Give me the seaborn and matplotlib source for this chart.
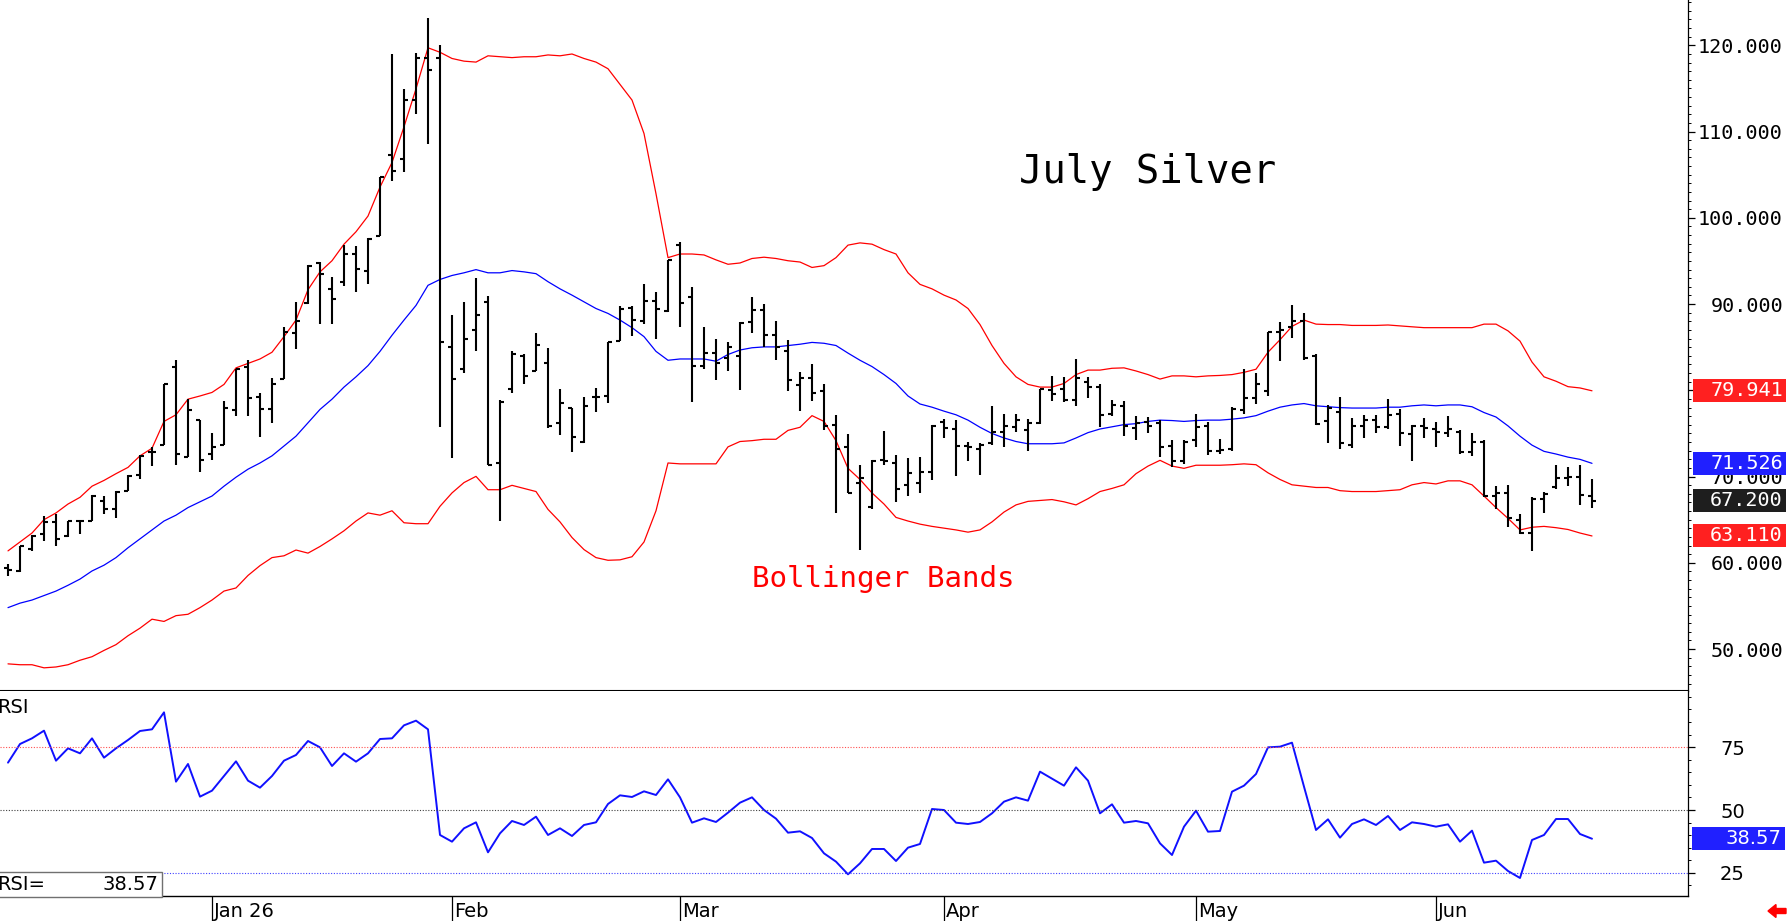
import numpy as np
import pandas as pd
import matplotlib
matplotlib.use("Agg")
import matplotlib.pyplot as plt
import matplotlib.transforms as mtransforms
from matplotlib.patches import Rectangle, FancyArrow
from matplotlib.ticker import MultipleLocator
import seaborn as sns

sns.set_theme(style="white")
plt.rcParams['font.family'] = ['DejaVu Sans']

# ---- data (one value per trading day) ----
opens = [59.45, 59.10, 61.62, 63.33, 64.73, 63.07, 64.90, 64.90, 67.20, 66.27,
         68.35, 70.20, 72.90, 73.68, 82.74, 72.28, 76.53, 72.64, 73.68, 77.66,
         82.74, 79.22, 77.80, 81.29, 86.62, 90.09, 94.75, 91.79, 92.57, 95.78,
         93.87, 97.85, 107.32, 106.80, 113.70, 118.55, 118.55, 85.07, 82.48, 86.98,
         90.24, 71.61, 80.15, 84.03, 82.22, 83.15, 76.26, 77.98, 74.04, 79.22,
         79.37, 85.74, 89.57, 88.02, 90.40, 89.21, 96.82, 90.76, 82.84, 84.30,
         83.77, 84.03, 87.91, 89.36, 86.46, 84.50, 80.60, 81.45, 79.89, 76.00,
         73.42, 69.30, 66.43, 71.87, 71.61, 69.02, 69.28, 70.58, 76.30, 75.49,
         73.50, 73.20, 73.94, 75.20, 75.70, 75.40, 76.26, 80.05, 80.10, 78.86,
         81.00, 80.40, 77.30, 78.20, 75.60, 76.30, 76.26, 73.50, 71.77, 74.20,
         75.90, 73.00, 73.16, 77.70, 79.10, 79.89, 86.80, 87.30, 88.00, 84.03,
         76.40, 77.50, 73.70, 75.90, 76.60, 75.80, 77.20, 74.90, 75.90, 75.50,
         75.00, 75.20, 72.80, 74.00, 67.80, 68.10, 65.00, 63.50, 67.40, 68.80,
         69.80, 70.00, 67.80]

highs = [59.86, 62.00, 63.17, 65.40, 65.66, 64.90, 65.00, 67.83, 67.80, 68.35,
         70.21, 72.49, 73.40, 80.77, 83.51, 78.96, 76.53, 75.08, 78.70, 82.48,
         83.51, 79.74, 81.45, 87.29, 90.24, 94.54, 94.90, 93.09, 96.82, 96.71,
         97.64, 104.74, 118.97, 114.93, 119.07, 123.21, 120.00, 88.69, 90.24, 92.99,
         90.92, 78.86, 84.55, 84.19, 86.62, 84.91, 80.15, 77.98, 79.22, 80.25,
         85.58, 89.72, 89.72, 92.31, 91.43, 95.16, 97.23, 91.95, 87.29, 85.94,
         85.58, 87.91, 90.76, 89.98, 88.02, 85.84, 82.07, 83.00, 80.77, 77.15,
         74.97, 71.35, 71.87, 75.23, 72.49, 72.13, 72.28, 76.01, 76.68, 76.53,
         74.04, 73.83, 78.18, 77.30, 77.30, 76.70, 80.15, 81.60, 81.50, 83.67,
         81.50, 80.77, 78.90, 78.70, 77.00, 76.90, 76.53, 74.20, 74.20, 77.30,
         76.30, 74.40, 78.08, 82.48, 81.96, 86.77, 87.91, 89.88, 88.95, 84.20,
         78.30, 79.20, 76.80, 77.10, 77.10, 78.96, 77.80, 76.00, 76.80, 76.30,
         77.00, 75.40, 75.10, 74.20, 68.90, 69.00, 65.60, 67.60, 68.20, 71.30,
         71.10, 71.30, 69.70]

lows = [58.51, 58.90, 61.41, 62.55, 61.93, 63.00, 63.30, 64.90, 65.60, 65.24,
        68.35, 69.70, 71.20, 73.60, 71.35, 72.28, 70.58, 71.87, 73.60, 77.04,
        77.04, 74.56, 76.22, 81.29, 84.81, 89.98, 87.65, 87.65, 92.05, 91.43,
        92.31, 97.85, 104.22, 105.25, 111.98, 108.51, 75.75, 72.13, 81.96, 84.55,
        71.35, 64.88, 79.63, 80.77, 82.22, 75.59, 74.87, 72.90, 73.94, 77.46,
        78.49, 85.74, 86.26, 87.65, 85.94, 89.05, 87.29, 78.60, 82.48, 81.19,
        82.22, 80.05, 86.62, 85.07, 83.51, 79.89, 77.56, 78.70, 75.39, 65.76,
        68.14, 61.52, 66.28, 71.35, 67.10, 67.72, 68.14, 69.54, 74.46, 70.06,
        71.77, 70.22, 73.68, 73.40, 75.20, 73.00, 76.11, 78.70, 78.60, 78.18,
        79.10, 75.75, 77.00, 74.70, 74.20, 75.00, 72.28, 71.10, 71.40, 73.40,
        72.50, 72.60, 73.00, 77.30, 78.40, 79.37, 83.36, 86.10, 83.50, 76.00,
        73.90, 73.16, 73.30, 74.50, 75.10, 75.50, 73.50, 71.80, 74.50, 73.40,
        74.60, 72.60, 72.40, 67.60, 66.20, 64.20, 63.30, 61.40, 65.80, 68.60,
        68.90, 66.70, 66.30]

closes = [59.20, 61.90, 63.07, 64.73, 62.81, 64.90, 64.90, 67.70, 66.27, 68.26,
          70.06, 72.40, 72.90, 80.77, 72.64, 77.66, 71.97, 73.42, 77.90, 82.48,
          79.11, 77.80, 80.77, 86.77, 88.07, 94.38, 93.50, 90.60, 95.78, 94.02,
          97.49, 104.74, 105.41, 113.69, 118.55, 117.16, 85.58, 81.29, 85.94, 88.69,
          71.35, 78.60, 84.19, 81.70, 85.22, 75.90, 78.49, 74.56, 78.18, 79.22,
          85.58, 89.47, 88.17, 90.40, 89.47, 95.16, 90.09, 82.84, 84.30, 83.15,
          85.07, 87.81, 89.36, 86.46, 85.00, 81.19, 81.45, 79.74, 75.90, 73.16,
          68.14, 69.80, 71.77, 71.77, 68.50, 70.42, 70.58, 75.90, 75.60, 73.52,
          73.40, 73.70, 75.20, 75.90, 76.50, 76.20, 80.15, 79.60, 78.90, 81.45,
          80.40, 77.14, 78.30, 75.90, 76.20, 75.90, 73.42, 71.77, 74.04, 75.80,
          73.00, 73.10, 77.80, 79.10, 80.77, 86.77, 87.00, 88.00, 83.77, 76.10,
          77.90, 73.90, 75.90, 76.50, 75.80, 77.10, 75.00, 75.90, 75.60, 75.20,
          75.50, 72.80, 74.00, 67.70, 68.10, 65.20, 63.50, 67.45, 68.00, 69.80,
          69.90, 67.83, 67.20]

upper_band = [61.38, 62.41, 63.45, 65.00, 65.78, 66.81, 67.59, 68.88, 69.55, 70.33,
              71.06, 72.40, 73.28, 76.39, 77.16, 78.97, 79.34, 79.75, 80.68, 82.60,
              83.12, 83.63, 84.41, 86.22, 88.14, 91.66, 93.73, 95.02, 96.94, 98.38,
              100.20, 103.56, 106.41, 110.55, 114.95, 119.71, 119.19, 118.47, 118.16, 118.05,
              118.78, 118.67, 118.57, 118.67, 118.67, 118.88, 118.78, 118.99, 118.47, 118.05,
              117.28, 115.47, 113.65, 109.77, 102.78, 95.38, 95.80, 95.80, 95.69, 95.12,
              94.61, 94.76, 95.28, 95.43, 95.28, 95.02, 94.87, 94.24, 94.45, 95.38,
              96.83, 97.09, 96.94, 96.31, 95.80, 93.62, 92.28, 91.76, 91.03, 90.47,
              89.48, 87.62, 85.19, 83.12, 81.56, 80.68, 80.37, 80.37, 80.79, 81.82,
              82.34, 82.34, 82.55, 82.60, 82.24, 81.82, 81.30, 81.67, 81.67, 81.56,
              81.67, 81.72, 81.82, 82.08, 82.44, 84.41, 85.86, 87.41, 88.14, 87.67,
              87.62, 87.62, 87.52, 87.52, 87.52, 87.57, 87.46, 87.36, 87.26, 87.26,
              87.26, 87.26, 87.26, 87.67, 87.67, 86.89, 85.70, 83.27, 81.56, 81.05,
              80.42, 80.27, 79.94]

mid_band = [54.80, 55.32, 55.68, 56.20, 56.72, 57.39, 58.11, 59.05, 59.72, 60.60,
            61.74, 62.77, 63.81, 64.84, 65.52, 66.40, 67.07, 67.74, 68.88, 69.92,
            70.85, 71.57, 72.40, 73.54, 74.68, 76.23, 77.78, 78.97, 80.37, 81.56,
            82.86, 84.51, 86.38, 88.14, 89.84, 92.17, 92.85, 93.31, 93.62, 93.99,
            93.62, 93.62, 93.88, 93.73, 93.52, 92.59, 91.76, 91.03, 90.26, 89.48,
            88.91, 88.14, 87.26, 86.22, 84.51, 83.48, 83.63, 83.63, 83.63, 83.37,
            84.15, 84.67, 84.93, 85.03, 85.03, 85.19, 85.34, 85.55, 85.45, 85.19,
            84.31, 83.48, 82.75, 81.82, 80.79, 79.34, 78.41, 78.04, 77.58, 77.16,
            76.54, 75.71, 74.99, 74.47, 74.06, 73.80, 73.80, 73.80, 73.90, 74.47,
            75.09, 75.51, 75.77, 76.02, 76.13, 76.39, 76.54, 76.49, 76.39, 76.49,
            76.54, 76.54, 76.65, 76.80, 77.06, 77.58, 78.04, 78.30, 78.46, 78.20,
            78.09, 77.99, 77.94, 77.94, 77.94, 78.04, 78.04, 78.20, 78.30, 78.20,
            78.30, 78.30, 78.09, 77.42, 76.90, 75.87, 74.68, 73.64, 72.92, 72.61,
            72.25, 71.99, 71.53]

lower_band = [48.28, 48.18, 48.18, 47.82, 47.92, 48.18, 48.70, 49.11, 49.84, 50.51,
              51.54, 52.42, 53.46, 53.20, 53.87, 54.03, 54.80, 55.68, 56.72, 57.08,
              58.53, 59.67, 60.60, 60.81, 61.48, 61.12, 61.89, 62.77, 63.71, 64.84,
              65.78, 65.52, 66.03, 64.64, 64.53, 64.53, 66.55, 68.10, 69.30, 70.02,
              68.47, 68.47, 68.98, 68.62, 68.26, 66.19, 64.74, 62.93, 61.53, 60.60,
              60.29, 60.34, 60.70, 62.41, 66.03, 71.57, 71.47, 71.47, 71.47, 71.47,
              73.44, 74.06, 74.16, 74.32, 74.32, 75.35, 75.71, 77.06, 76.39, 74.16,
              70.95, 69.66, 68.10, 66.81, 65.26, 64.84, 64.48, 64.22, 64.02, 63.81,
              63.55, 63.81, 64.74, 65.88, 66.71, 67.12, 67.23, 67.33, 67.07, 66.71,
              67.43, 68.26, 68.62, 69.04, 70.33, 71.21, 71.88, 71.21, 70.95, 71.31,
              71.31, 71.31, 71.37, 71.47, 71.37, 70.43, 69.66, 69.04, 68.88, 68.73,
              68.73, 68.36, 68.26, 68.26, 68.26, 68.36, 68.47, 69.04, 69.30, 69.14,
              69.50, 69.50, 69.04, 67.74, 66.40, 65.15, 63.81, 64.12, 64.22, 64.07,
              63.86, 63.45, 63.11]

rsi = [68.84, 76.26, 78.52, 81.57, 69.63, 74.54, 72.55, 78.52, 70.83, 74.54,
       77.86, 81.44, 82.10, 88.86, 61.28, 68.31, 55.31, 57.70, 63.53, 69.37,
       61.68, 58.89, 63.53, 69.63, 71.89, 77.46, 74.94, 67.51, 72.55, 69.24,
       72.55, 78.25, 78.52, 83.69, 85.55, 82.10, 40.06, 37.40, 42.71, 45.10,
       33.16, 40.72, 45.63, 44.04, 47.35, 40.06, 42.71, 39.66, 44.04, 45.10,
       52.39, 55.84, 55.18, 57.43, 55.97, 62.21, 55.04, 44.96, 46.69, 45.23,
       48.94, 52.92, 55.04, 50.00, 46.56, 40.98, 41.52, 38.86, 32.76, 29.45,
       24.41, 28.78, 34.49, 34.49, 29.71, 35.02, 36.48, 50.40, 50.00, 44.96,
       44.43, 45.23, 48.68, 53.32, 55.04, 53.72, 65.26, 62.47, 59.69, 66.98,
       61.68, 48.68, 52.26, 44.96, 45.63, 44.70, 36.74, 32.10, 43.37, 49.74,
       41.38, 41.65, 57.30, 59.69, 64.33, 74.94, 75.20, 76.79, 59.29, 42.05,
       46.29, 39.00, 44.43, 46.29, 44.04, 47.62, 42.05, 45.10, 44.43, 43.37,
       44.30, 37.40, 41.78, 29.05, 29.84, 25.73, 22.95, 38.07, 40.06, 46.42,
       46.42, 40.45, 38.57]

month_labels = ['Jan 26', 'Feb', 'Mar', 'Apr', 'May', 'Jun']
month_start_bar = [17, 37, 56, 78, 99, 119]
price_ticks = [50, 60, 70, 80, 90, 100, 110, 120]
rsi_ticks = [25, 50, 75]

last_values = [79.941, 71.526, 67.200, 63.110]
last_colors = ['#ff2020', '#2020ff', '#1e1e1e', '#ff2020']
rsi_last = 38.57

# ---- layout (pixel based) ----
W, H = 1788, 921
PLOT_R = 1688
MAIN_BOT = 691
RSI_BOT = 896

bars = np.arange(len(closes))
df = pd.DataFrame({'bar': bars, 'upper': upper_band, 'mid': mid_band,
                   'lower': lower_band, 'rsi': rsi})

fig = plt.figure(figsize=(W / 100, H / 100), dpi=100)
fig.patch.set_facecolor('white')
ax = fig.add_axes([0, 1 - MAIN_BOT / H, PLOT_R / W, MAIN_BOT / H])
ax_rsi = fig.add_axes([0, 1 - RSI_BOT / H, PLOT_R / W, (RSI_BOT - MAIN_BOT) / H])

# Bollinger bands
sns.lineplot(data=df, x='bar', y='upper', ax=ax, color='#ff0000', linewidth=0.9)
sns.lineplot(data=df, x='bar', y='mid', ax=ax, color='#0000ff', linewidth=0.9)
sns.lineplot(data=df, x='bar', y='lower', ax=ax, color='#ff0000', linewidth=0.9)

# OHLC bars
ax.vlines(bars, lows, highs, color='black', linewidth=1.5, zorder=3)
ax.hlines(opens, bars - 0.36, bars, color='black', linewidth=1.5, zorder=3)
ax.hlines(closes, bars, bars + 0.36, color='black', linewidth=1.5, zorder=3)

x_lo, x_hi = -8 / 12, (PLOT_R - 8) / 12
ax.set_xlim(x_lo, x_hi)
ax.set_ylim(125.25 - MAIN_BOT / 8.625, 125.25)
ax.set_xticks([])
ax.set_xlabel('')
ax.set_ylabel('')

for s in ['top', 'left']:
    ax.spines[s].set_visible(False)
ax.spines['right'].set_color('black')
ax.spines['right'].set_linewidth(0.9)
ax.spines['bottom'].set_color('black')
ax.spines['bottom'].set_linewidth(1.5)

ax.yaxis.tick_right()
ax.set_yticks(price_ticks, [f'{v:.3f}' for v in price_ticks],
              fontfamily='DejaVu Sans Mono', fontsize=14.5, ha='right')
ax.yaxis.set_minor_locator(MultipleLocator(1))
ax.tick_params(axis='y', which='major', right=True, left=False, direction='out',
               length=5, width=0.9, color='black', pad=63.4, labelcolor='black')
ax.tick_params(axis='y', which='minor', right=True, left=False, direction='out',
               length=2.5, width=0.7, color='black')

# last-value boxes
tr = mtransforms.blended_transform_factory(ax.transAxes, ax.transData)
box_h = 23 / 8.625
for val, col in zip(last_values, last_colors):
    ax.add_patch(Rectangle((1693 / PLOT_R, val - box_h / 2), 93 / PLOT_R, box_h,
                           transform=tr, facecolor=col, edgecolor='none',
                           clip_on=False, zorder=6))
    ax.text(1783 / PLOT_R, val, f'{val:.3f}', transform=tr, ha='right', va='center',
            color='white', fontsize=14.5, fontfamily='DejaVu Sans Mono',
            clip_on=False, zorder=7)

# chart captions (monospace gives the wide letter spacing of the original)
fig.text(1148 / W, 1 - 183 / H, 'July Silver', ha='center', va='baseline',
         fontsize=28, color='black', fontfamily='DejaVu Sans Mono')
fig.text(883 / W, 1 - 587 / H, 'Bollinger Bands', ha='center', va='baseline',
         fontsize=21, color='#ff0000', fontfamily='DejaVu Sans Mono')

# ---- RSI panel ----
sns.lineplot(data=df, x='bar', y='rsi', ax=ax_rsi, color='#1010ff', linewidth=1.4)
ax_rsi.axhline(75, color='#ff5050', linestyle=(0, (1, 1.5)), linewidth=0.8)
ax_rsi.axhline(50, color='#404040', linestyle=(0, (1, 1.5)), linewidth=0.8)
ax_rsi.axhline(25, color='#4040ff', linestyle=(0, (1, 1.5)), linewidth=0.8)

rsi_top = 97.75 - 1 * 0.3979
rsi_bot = 97.75 - (RSI_BOT - 690) * 0.3979
ax_rsi.set_ylim(rsi_bot, rsi_top)
ax_rsi.set_xlim(x_lo, x_hi)
ax_rsi.set_xlabel('')
ax_rsi.set_ylabel('')
ax_rsi.spines['top'].set_visible(False)
ax_rsi.spines['left'].set_visible(False)
ax_rsi.spines['right'].set_color('black')
ax_rsi.spines['right'].set_linewidth(0.9)
ax_rsi.spines['bottom'].set_color('black')
ax_rsi.spines['bottom'].set_linewidth(1.0)

ax_rsi.yaxis.tick_right()
ax_rsi.set_yticks(rsi_ticks, [str(v) for v in rsi_ticks], fontsize=14, ha='right')
ax_rsi.yaxis.set_minor_locator(MultipleLocator(5))
ax_rsi.tick_params(axis='y', which='major', right=True, left=False, direction='out',
                   length=5, width=0.9, color='black', pad=36, labelcolor='black')
ax_rsi.tick_params(axis='y', which='minor', right=True, left=False, direction='out',
                   length=2.5, width=0.7, color='black')

ax_rsi.set_xticks(month_start_bar, [''] * len(month_start_bar))
ax_rsi.tick_params(axis='x', which='major', bottom=True, direction='out',
                   length=18, width=0.9, color='black')
trx = mtransforms.blended_transform_factory(ax_rsi.transData, ax_rsi.transAxes)
for lab, pos in zip(month_labels, month_start_bar):
    ax_rsi.text(pos + 0.15, (RSI_BOT - 917) / 205, lab, transform=trx,
                ha='left', va='baseline', fontsize=14, color='black', clip_on=False)

ax_rsi.text(-3 / PLOT_R, (RSI_BOT - 713) / 205, 'RSI', transform=ax_rsi.transAxes,
            ha='left', va='baseline', fontsize=14, color='black')

# RSI= box bottom-left
ax_rsi.add_patch(Rectangle((-2 / PLOT_R, -1 / 205), 164 / PLOT_R, 25 / 205,
                           transform=ax_rsi.transAxes, facecolor='white',
                           edgecolor='#707070', linewidth=1.0, clip_on=False, zorder=6))
ax_rsi.text(-3 / PLOT_R, (RSI_BOT - 890) / 205, 'RSI=', transform=ax_rsi.transAxes,
            ha='left', va='baseline', fontsize=14, color='black', zorder=7)
ax_rsi.text(158 / PLOT_R, (RSI_BOT - 890) / 205, f'{rsi_last:.2f}',
            transform=ax_rsi.transAxes, ha='right', va='baseline', fontsize=14,
            color='black', zorder=7)

# RSI last-value box
trr = mtransforms.blended_transform_factory(ax_rsi.transAxes, ax_rsi.transData)
rbox_h = 23 * 0.3979
ax_rsi.add_patch(Rectangle((1692 / PLOT_R, rsi_last - rbox_h / 2), 93 / PLOT_R, rbox_h,
                           transform=trr, facecolor='#2020ff', edgecolor='none',
                           clip_on=False, zorder=6))
ax_rsi.text(1781 / PLOT_R, rsi_last, f'{rsi_last:.2f}', transform=trr, ha='right',
            va='center', color='white', fontsize=14, clip_on=False, zorder=7)

# little red arrow bottom right
fig.add_artist(FancyArrow(1786 / W, 1 - 911 / H, -10 / W, 0, width=5 / H,
                          head_width=13 / H, head_length=8 / W,
                          length_includes_head=False, transform=fig.transFigure,
                          color='#ff0000'))

fig.savefig('out.png', dpi=100, facecolor='white')
